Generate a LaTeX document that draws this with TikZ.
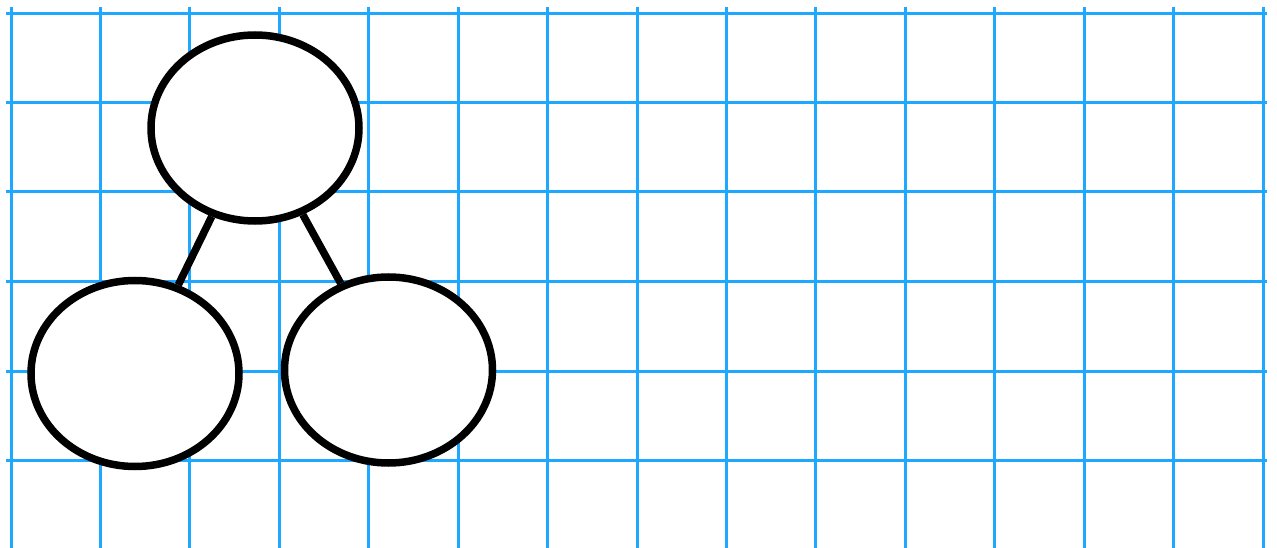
\documentclass[tikz,border=0pt]{standalone}
\usetikzlibrary{shapes.geometric}
\definecolor{gridblue}{RGB}{30,168,255}
\begin{document}
\begin{tikzpicture}[x=1pt,y=-1pt,
  gridline/.style={draw=gridblue,line width=3pt},
  treenode/.style={ellipse,draw=black,fill=white,line width=7.5pt,inner sep=0pt,minimum width=208pt,minimum height=186pt},
  edge/.style={draw=black,line width=7.5pt}]
\useasboundingbox (0,0) rectangle (1277,548);
\fill[white] (0,0) rectangle (1277,548);
\foreach \x in {11,100.4,189.9,279.3,368.7,458.1,547.6,637,726.4,815.9,905.3,994.7,1084.1,1173.6,1263}
  \draw[gridline] (\x,7) -- (\x,548);
\foreach \y in {14,102.8,191.6,281.4,371,460}
  \draw[gridline] (6,\y) -- (1267,\y);
\node[treenode] (root) at (255,128) {};
\node[treenode] (left) at (135,373.5) {};
\node[treenode] (right) at (388.5,370) {};
\draw[edge] (root) -- (left);
\draw[edge] (root) -- (right);
\end{tikzpicture}
\end{document}
